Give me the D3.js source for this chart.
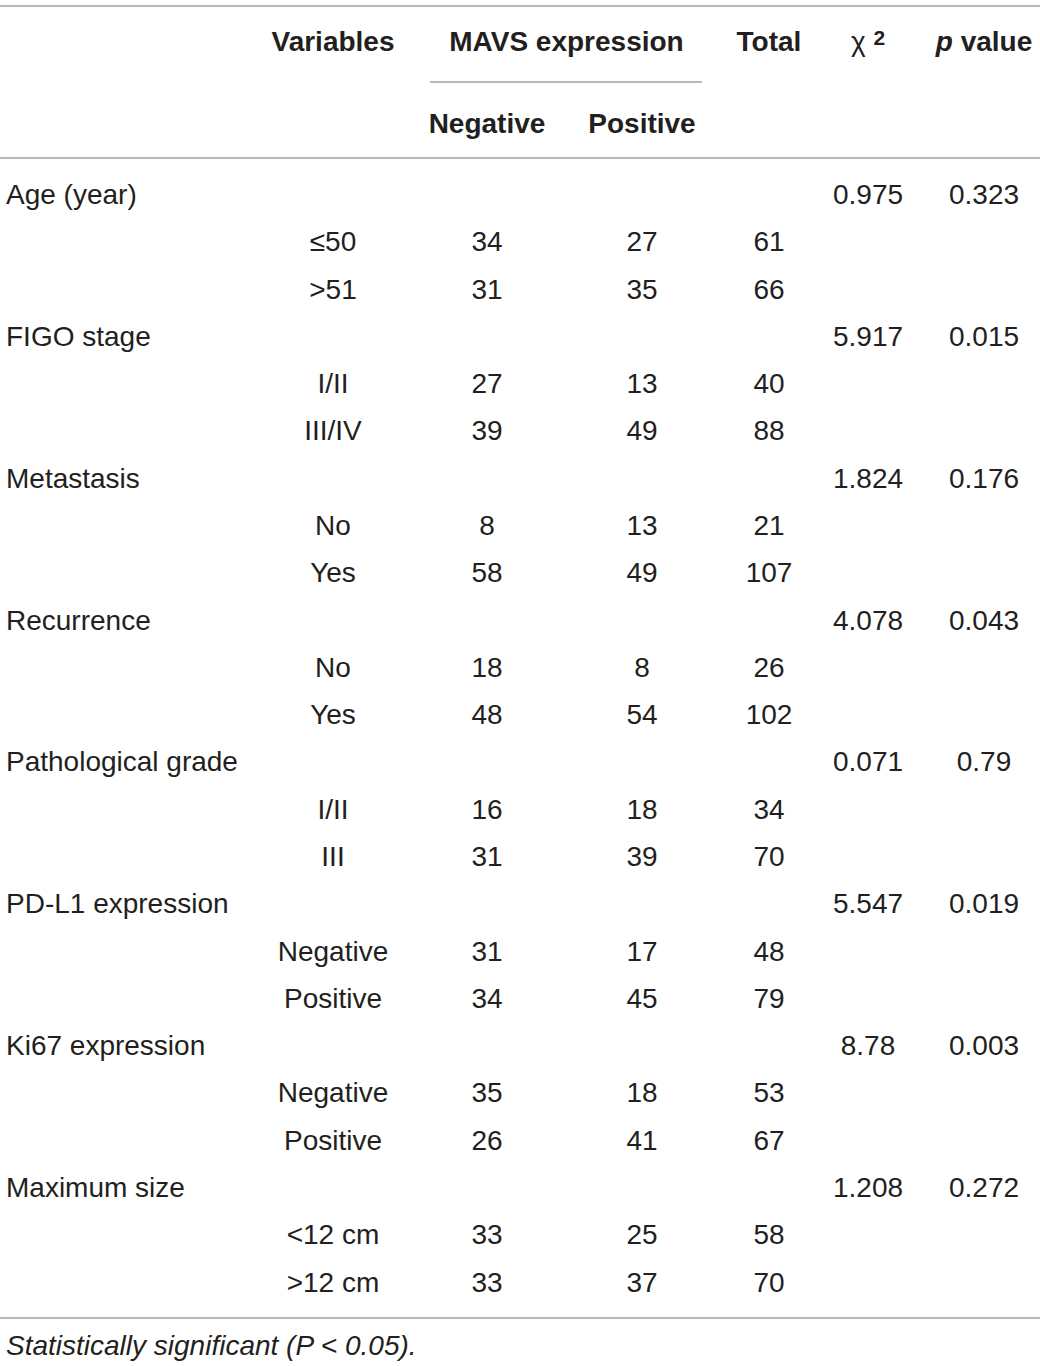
<!DOCTYPE html>
<html>
<head>
<meta charset="utf-8">
<script src="https://cdn.jsdelivr.net/npm/d3@7"></script>
<style>
  body { margin: 0; background: #fff; }
  text { font-family: "Liberation Sans", Arial, sans-serif; fill: #231f20; }
  .hd { font-weight: bold; }
</style>
</head>
<body>
<div id="table"></div>
<script>
// table values, one entry per row
var rowLabels = ["Age (year)", "\u226450", ">51", "FIGO stage", "I/II", "III/IV",
  "Metastasis", "No", "Yes", "Recurrence", "No", "Yes",
  "Pathological grade", "I/II", "III", "PD-L1 expression", "Negative", "Positive",
  "Ki67 expression", "Negative", "Positive", "Maximum size", "<12 cm", ">12 cm"];
var isGroup = [1,0,0, 1,0,0, 1,0,0, 1,0,0, 1,0,0, 1,0,0, 1,0,0, 1,0,0];
var negative = ["", "34", "31", "", "27", "39", "", "8", "58", "", "18", "48",
  "", "16", "31", "", "31", "34", "", "35", "26", "", "33", "33"];
var positive = ["", "27", "35", "", "13", "49", "", "13", "49", "", "8", "54",
  "", "18", "39", "", "17", "45", "", "18", "41", "", "25", "37"];
var total = ["", "61", "66", "", "40", "88", "", "21", "107", "", "26", "102",
  "", "34", "70", "", "48", "79", "", "53", "67", "", "58", "70"];
var chiSq = ["0.975", "", "", "5.917", "", "", "1.824", "", "", "4.078", "", "",
  "0.071", "", "", "5.547", "", "", "8.78", "", "", "1.208", "", ""];
var pValue = ["0.323", "", "", "0.015", "", "", "0.176", "", "", "0.043", "", "",
  "0.79", "", "", "0.019", "", "", "0.003", "", "", "0.272", "", ""];
var columns = ["sub", "neg", "pos", "total", "chi", "p"];
var footnote = "Statistically significant (P < 0.05).";

var width = 1040, height = 1366;
var fs = 28;

var svg = d3.select("#table").append("svg")
  .attr("width", width).attr("height", height);

// column centres and row bands
var colX = d3.scaleOrdinal().domain(columns).range([333, 487, 642, 769, 868, 984]);
var rowY = d3.scaleBand().domain(d3.range(rowLabels.length))
  .range([170.5, 1305.5]).paddingInner(0).paddingOuter(0);
function cy(i) { return rowY(i) + rowY.bandwidth() / 2; }

// rules
var rule = function (x1, x2, y) {
  svg.append("line").attr("x1", x1).attr("x2", x2).attr("y1", y).attr("y2", y)
    .attr("stroke", "#a0a0a0").attr("stroke-width", 1.5);
};
rule(0, 1040, 6);
rule(430, 702, 82);
rule(0, 1040, 158);
rule(0, 1040, 1318);

// header
var head = svg.append("g").attr("class", "hd").style("font-size", fs + "px");
function hText(x, y, s) {
  return head.append("text").attr("x", x).attr("y", y).attr("dy", "0.35em")
    .attr("text-anchor", "middle").attr("class", "hd").text(s);
}
hText(colX("sub"), 41, "Variables");
hText((colX("neg") + colX("pos")) / 2 + 2, 41, "MAVS expression");
hText(colX("total"), 41, "Total");
var chi = head.append("text").attr("x", colX("chi")).attr("y", 41).attr("dy", "0.35em")
  .attr("text-anchor", "middle");
chi.append("tspan").style("font-weight", "normal").text("\u03c7 ");
chi.append("tspan").attr("class", "hd").attr("dy", "-0.3em").style("font-size", "21px").text("2");
var pv = head.append("text").attr("x", colX("p")).attr("y", 41).attr("dy", "0.35em")
  .attr("text-anchor", "middle").attr("class", "hd");
pv.append("tspan").style("font-style", "italic").text("p");
pv.append("tspan").text(" value");
hText(colX("neg"), 123, "Negative");
hText(colX("pos"), 123, "Positive");

// body
var rows = svg.selectAll("g.row").data(rowLabels).enter().append("g")
  .attr("class", "row").style("font-size", fs + "px");

rows.append("text")
  .attr("x", function (d, i) { return isGroup[i] ? 6 : colX("sub"); })
  .attr("y", function (d, i) { return cy(i); })
  .attr("dy", "0.35em")
  .attr("text-anchor", function (d, i) { return isGroup[i] ? "start" : "middle"; })
  .text(function (d) { return d; });

var valueCols = [["neg", negative], ["pos", positive], ["total", total], ["chi", chiSq], ["p", pValue]];
valueCols.forEach(function (c) {
  rows.append("text")
    .attr("x", colX(c[0]))
    .attr("y", function (d, i) { return cy(i); })
    .attr("dy", "0.35em")
    .attr("text-anchor", "middle")
    .text(function (d, i) { return c[1][i]; });
});

// footnote
svg.append("text").attr("x", 6).attr("y", 1345).attr("dy", "0.35em")
  .style("font-size", fs + "px").style("font-style", "italic")
  .text(footnote);
</script>
</body>
</html>
